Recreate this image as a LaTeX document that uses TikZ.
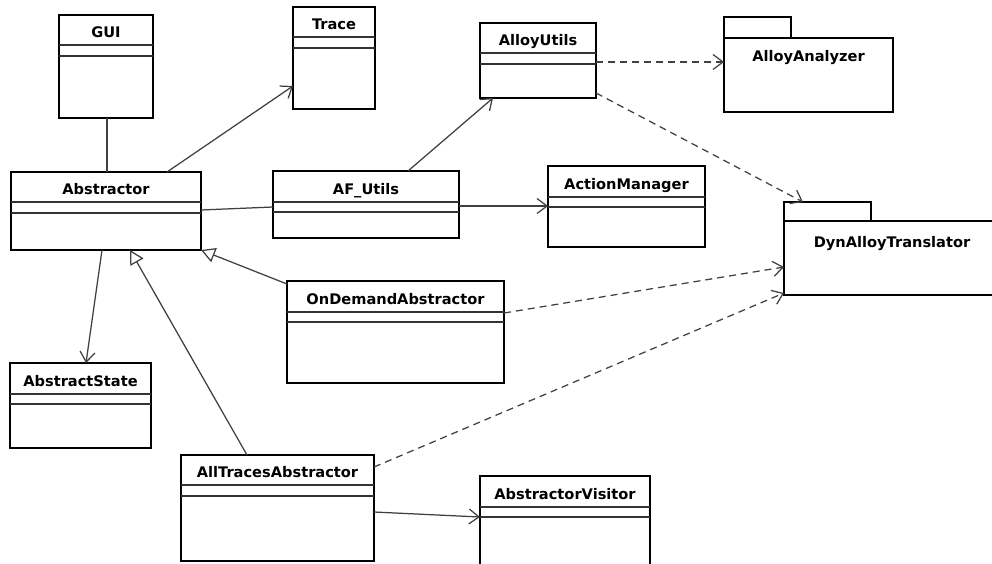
\documentclass[tikz,border=0pt]{standalone}
\usepackage{fontspec}
\setmainfont{DejaVu Sans}
\usetikzlibrary{arrows.meta}
\tikzset{
  cls/.style={draw=black, line width=2.6pt, fill=white, rectangle, anchor=north west, inner sep=0pt, outer sep=0pt},
  sepline/.style={draw=black!80, line width=1.3pt},
  title/.style={anchor=base, inner sep=0pt, font=\fontsize{14.6}{17}\selectfont\bfseries},
  conn/.style={draw=black!75, line width=1.25pt},
  assoc/.style={conn, -{Straight Barb[length=10pt,width=15pt,line width=1.25pt]}},
  dep/.style={conn, dash pattern=on 7pt off 5pt, -{Straight Barb[length=10pt,width=15pt,line width=1.25pt]}},
  inherit/.style={conn, -{Triangle[open,length=14pt,width=15pt,line width=1.25pt,fill=white]}}
}
\newcommand\umlclass[8]{%
  \pgfmathsetmacro\clw{#4-#2}\pgfmathsetmacro\clh{#5-#3}%
  \node[cls, minimum width=\clw pt, minimum height=\clh pt] (#1) at (#2,#3) {};
  \draw[sepline] (#1.west |- 0,#6) -- (#1.east |- 0,#6);
  \draw[sepline] (#1.west |- 0,#7) -- (#1.east |- 0,#7);
  \node[title] (#1-t) at ({(#2+#4)/2},{#6-8}) {#8};
}
\newcommand\umlpkg[9]{% name, tabx2, taby1, x1, y1(body top), x2, y2, baseline, text
  \pgfmathsetmacro\tbw{#2-#4}\pgfmathsetmacro\tbh{#5-#3}%
  \pgfmathsetmacro\clw{#6-#4}\pgfmathsetmacro\clh{#7-#5}%
  \node[cls, minimum width=\tbw pt, minimum height=\tbh pt] (#1-tab) at (#4,#3) {};
  \node[cls, minimum width=\clw pt, minimum height=\clh pt] (#1) at (#4,#5) {};
  \node[title] (#1-t) at ({(#4+#6)/2},#8) {#9};
}
\begin{document}
\begin{tikzpicture}[x=1pt,y=-1pt]
\useasboundingbox (0,0) rectangle (992,563);
\fill[white] (0,0) rectangle (992,563);
\clip (0,0) rectangle (992,563);

\umlclass{gui}{59}{15}{153}{118}{45}{56}{GUI}
\umlclass{trace}{293}{7}{375}{109}{37}{48}{Trace}
\umlclass{alloyutils}{480}{23}{596}{98}{53}{64}{AlloyUtils}
\umlclass{afutils}{273}{171}{459}{238}{202}{212}{AF\_Utils}
\umlclass{abstractor}{11}{172}{201}{250}{202}{213}{Abstractor}
\umlclass{actionmgr}{548}{166}{705}{247}{197}{207}{ActionManager}
\umlclass{ondemand}{287}{281}{504}{383}{312}{322}{OnDemandAbstractor}
\umlclass{absstate}{10}{363}{151}{448}{394}{404}{AbstractState}
\umlclass{alltraces}{181}{455}{374}{561}{485}{496}{AllTracesAbstractor}
\umlclass{visitor}{480}{476}{650}{580}{507}{517}{AbstractorVisitor}

\umlpkg{analyzer}{791}{17}{724}{38}{893}{112}{61}{AlloyAnalyzer}
\umlpkg{dynalloy}{871}{202}{784}{221}{1000}{295}{247}{DynAlloyTranslator}

% connectors
\draw[conn] (gui.south -| 107,0) -- (abstractor.north -| 107,0);
\draw[assoc] (abstractor.north -| 167,0) -- (trace.west |- 0,86);
\draw[conn] (abstractor.east |- 0,210) -- (afutils.west |- 0,207);
\draw[assoc] (afutils.north -| 408,0) -- (alloyutils.south -| 493,0);
\draw[assoc] (afutils.east |- 0,206) -- (actionmgr.west |- 0,206);
\draw[dep] (alloyutils.east |- 0,62) -- (analyzer.west |- 0,62);
\draw[dep] (alloyutils.east |- 0,93) -- (dynalloy-tab.north -| 803,0);
\draw[dep] (ondemand.east |- 0,313) -- (dynalloy.west |- 0,267);
\draw[dep] (alltraces.east |- 0,467) -- (dynalloy.west |- 0,293);
\draw[inherit] (ondemand.west |- 0,284) -- (abstractor.south -| 201,0);
\draw[inherit] (alltraces.north -| 247,0) -- (abstractor.south -| 130,0);
\draw[assoc] (abstractor.south -| 102,0) -- (absstate.north -| 86,0);
\draw[assoc] (alltraces.east |- 0,512) -- (visitor.west |- 0,517);
\end{tikzpicture}
\end{document}
